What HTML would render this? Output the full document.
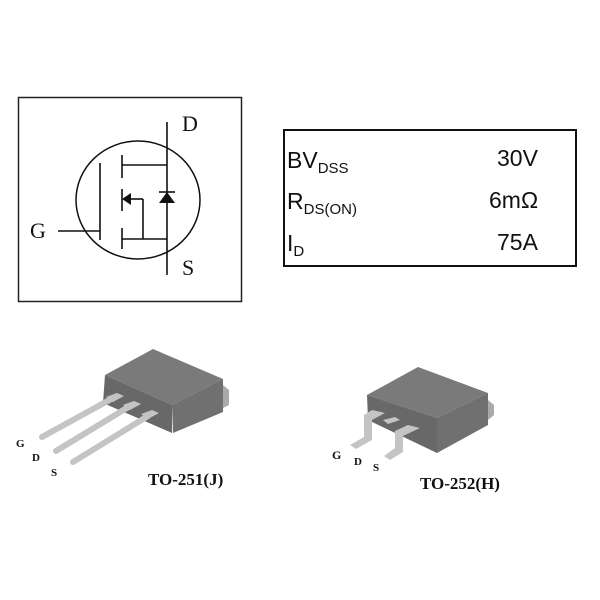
<!DOCTYPE html>
<html><head><style>body{margin:0;background:#fff}svg{display:block}</style></head><body>
<svg width="600" height="600" viewBox="0 0 600 600" xmlns="http://www.w3.org/2000/svg">
<rect x="0" y="0" width="600" height="600" fill="#fff"/>
<rect x="18.5" y="97.5" width="223" height="204" fill="none" stroke="#222" stroke-width="1.5"/>
<ellipse cx="138" cy="200" rx="62" ry="59" fill="none" stroke="#111" stroke-width="1.5"/>
<g stroke="#111" stroke-width="1.6" fill="none">
<line x1="167" y1="122" x2="167" y2="275"/>
<line x1="100" y1="163" x2="100" y2="240"/>
<line x1="58" y1="231" x2="100" y2="231"/>
<line x1="122" y1="155" x2="122" y2="178"/>
<line x1="122" y1="189" x2="122" y2="211"/>
<line x1="122" y1="228" x2="122" y2="249"/>
<line x1="122" y1="165" x2="167" y2="165"/>
<line x1="122" y1="239" x2="167" y2="239"/>
<line x1="128" y1="199" x2="143" y2="199"/>
<line x1="143" y1="199" x2="143" y2="239"/>
<line x1="159" y1="192" x2="175" y2="192"/>
</g>
<polygon points="122,199 131,193 131,205" fill="#111"/>
<polygon points="167,192 159,203 175,203" fill="#111"/>
<g font-family="Liberation Serif, serif" font-size="22" fill="#111">
<text x="182" y="131">D</text>
<text x="182" y="275">S</text>
<text x="30" y="238">G</text>
</g>
<rect x="284" y="130" width="292" height="136" fill="none" stroke="#111" stroke-width="2"/>
<g font-family="Liberation Sans, sans-serif" fill="#111">
<text x="287" y="168" font-size="23">BV<tspan font-size="15" dy="5">DSS</tspan></text>
<text x="287" y="209" font-size="23">R<tspan font-size="15" dy="5">DS(ON)</tspan></text>
<text x="287" y="251" font-size="23">I<tspan font-size="15" dy="5">D</tspan></text>
<text x="497" y="166" font-size="23">30V</text>
<text x="489" y="208" font-size="23">6mΩ</text>
<text x="497" y="250" font-size="23">75A</text>
</g>
<!-- TO-251 -->
<polygon points="223,385 229,390 229,405 223,408" fill="#aaa"/>
<polygon points="105,375 153,349 223,379 172,405" fill="#7a7a7a"/>
<polygon points="105,375 172,405 172,433 103,403" fill="#686868"/>
<polygon points="172,405 223,379 223,412 173,433" fill="#707070"/>
<g stroke="#c4c4c4" stroke-width="6" stroke-linecap="round">
<line x1="113" y1="398" x2="42" y2="437"/>
<line x1="130" y1="406" x2="56" y2="451"/>
<line x1="148" y1="416" x2="73" y2="462"/>
</g>
<g fill="#c4c4c4">
<polygon points="106,397 117,393 124,396 113,402"/>
<polygon points="123,405 134,401 141,404 130,410"/>
<polygon points="141,414 152,410 159,413 148,419"/>
</g>
<g font-family="Liberation Serif, serif" font-weight="bold" fill="#111">
<text x="16" y="447" font-size="11">G</text>
<text x="32" y="461" font-size="11">D</text>
<text x="51" y="476" font-size="11">S</text>
<text x="148" y="485" font-size="17">TO-251(J)</text>
</g>
<!-- TO-252 -->
<polygon points="488,400 494,405 494,415 488,420" fill="#aaa"/>
<polygon points="367,395 418,367 488,393 437,418" fill="#7a7a7a"/>
<polygon points="367,395 437,418 437,453 368,420" fill="#686868"/>
<polygon points="437,418 488,393 488,425 437,453" fill="#707070"/>
<g fill="#c4c4c4">
<polygon points="372,410 385,413 372,420 372,440 356,449 350,445 364,437 364,415"/>
<polygon points="383,420 395,417 400,420 388,424"/>
<polygon points="408,425 420,428 403,436 403,452 390,460 384,456 395,448 395,431"/>
</g>
<g font-family="Liberation Serif, serif" font-weight="bold" fill="#111">
<text x="332" y="459" font-size="12">G</text>
<text x="354" y="465" font-size="11">D</text>
<text x="373" y="471" font-size="11">S</text>
<text x="420" y="489" font-size="17">TO-252(H)</text>
</g>
</svg>
</body></html>
